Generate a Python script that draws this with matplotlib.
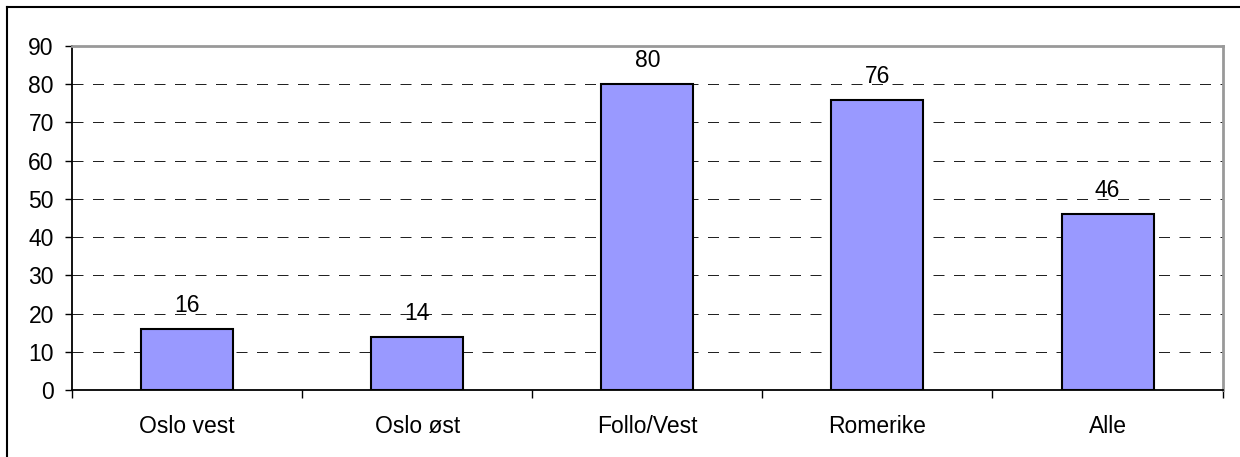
import matplotlib
matplotlib.use('Agg')
from matplotlib import pyplot as plt
from matplotlib.lines import Line2D
import numpy as np

regions = ['Oslo vest', 'Oslo øst', 'Follo/Vest', 'Romerike', 'Alle']
values = [16, 14, 80, 76, 46]
yticks = list(range(0, 91, 10))

plt.rcParams['font.family'] = ['Liberation Sans', 'DejaVu Sans']
plt.rcParams['font.size'] = 16.5

fig = plt.figure(figsize=(12.4, 4.57), dpi=100)
ax = fig.add_axes([0.058, 0.1466, 0.928, 0.7526])

x = np.arange(len(regions))
bars = ax.bar(x, values, width=0.4, color='#9999FF', edgecolor='black',
              linewidth=1.5, zorder=3)
for b, v in zip(bars, values):
    ax.annotate(str(v), (b.get_x() + b.get_width()/2, v), xytext=(0, 8.5),
                textcoords='offset points', ha='center', va='bottom')

ax.set_xlim(-0.5, len(regions) - 0.5)
ax.set_ylim(0, 90)
ax.set_yticks(yticks)

# category boundaries carry the tick marks, names sit in between
ax.set_xticks(np.arange(-0.5, len(regions), 1.0))
ax.set_xticklabels([])
ax.set_xticks(x, minor=True)
ax.set_xticklabels(regions, minor=True)
ax.tick_params(axis='x', which='major', direction='out', length=6, width=1, color='black')
ax.tick_params(axis='x', which='minor', length=0, pad=18)
ax.tick_params(axis='y', direction='out', length=5, width=1, pad=8)

ax.yaxis.grid(True, linestyle=(0, (11, 9.5)), color='#222222', linewidth=0.72, zorder=0)
ax.set_axisbelow(True)

for s in ['left', 'bottom']:
    ax.spines[s].set_color('black')
    ax.spines[s].set_linewidth(1.3)
for s in ['top', 'right']:
    ax.spines[s].set_color('#999999')
    ax.spines[s].set_linewidth(2)

# outer frame (top and left edges)
fig.add_artist(Line2D([7/1240, 7/1240], [0, 1 - 7/457], transform=fig.transFigure,
                      color='black', linewidth=1.5))
fig.add_artist(Line2D([7/1240, 1], [1 - 7/457, 1 - 7/457], transform=fig.transFigure,
                      color='black', linewidth=1.5))

fig.savefig('out.png', dpi=100)
